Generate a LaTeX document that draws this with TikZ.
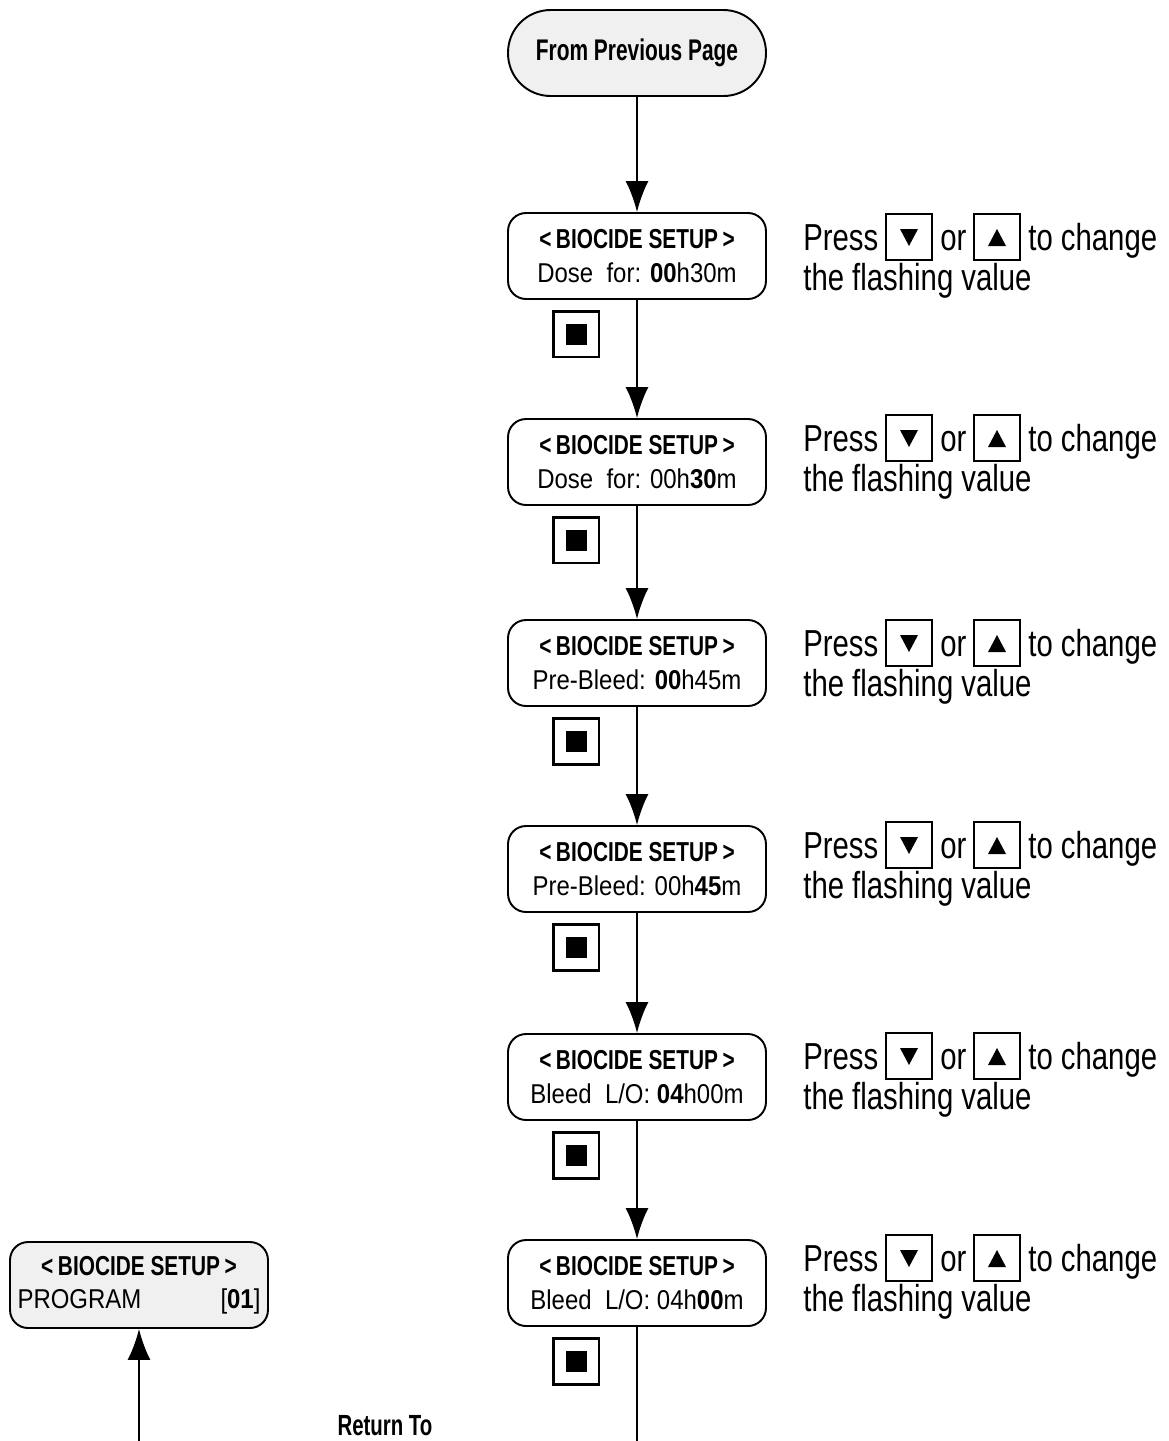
\documentclass[tikz,border=0pt]{standalone}
\usepackage{fontspec}
\setmainfont{Liberation Sans}[FakeStretch=0.88]
\newfontfamily\headfont{Liberation Sans}[FakeStretch=0.70]
\newfontfamily\hintfont{Liberation Sans}[FakeStretch=0.78]
\newfontfamily\titlefont{Liberation Sans}[FakeStretch=0.76]
\usetikzlibrary{arrows.meta}

\definecolor{panel}{RGB}{240,240,240}

\newcommand{\screentitle}{{\titlefont\bfseries\fontsize{15.6}{19}\selectfont<\,BIOCIDE SETUP\,>}}

\tikzset{
    screen/.style={draw, line width=1.1pt, rounded corners=0.36cm,
        minimum width=5.16cm, minimum height=1.72cm, inner sep=0pt,
        align=center, font=\fontsize{15.5}{19}\selectfont},
    startbox/.style={screen, fill=panel, rounded corners=0.85cm,
        font=\headfont\bfseries\fontsize{17}{20}\selectfont},
    headtext/.style={inner sep=0pt, font=\headfont\bfseries\fontsize{16.6}{19}\selectfont},
    stopkey/.style={draw, line width=1.7pt, minimum size=0.92cm, inner sep=0pt},
    keybox/.style={draw, line width=1.2pt, minimum size=0.92cm, inner sep=0pt},
    hint/.style={inner sep=0pt, font=\hintfont\fontsize{21.4}{26}\selectfont},
    flow/.style={->, line width=1.1pt}
}

\begin{document}
\begin{tikzpicture}[x=0.02cm,y=-0.02cm,>={Latex[length=0.62cm,width=0.46cm]}]
\useasboundingbox (0,0) rectangle (1169,1441);

% Entry
\node[startbox] (start) at (637,53) {From Previous Page};

% Setup screens
\node[screen] (s1) at (637,256) {\screentitle\\Dose\ \ for: \textbf{00}h30m};
\node[screen] (s2) at (637,462) {\screentitle\\Dose\ \ for: 00h\textbf{30}m};
\node[screen] (s3) at (637,663) {\screentitle\\Pre-Bleed: \textbf{00}h45m};
\node[screen] (s4) at (637,869) {\screentitle\\Pre-Bleed: 00h\textbf{45}m};
\node[screen] (s5) at (637,1077) {\screentitle\\Bleed\ \ L/O: \textbf{04}h00m};
\node[screen] (s6) at (637,1283) {\screentitle\\Bleed\ \ L/O: 04h\textbf{00}m};

% Program screen
\node[screen, fill=panel] (prog) at (139,1285)
    {\screentitle\\\makebox[4.86cm]{PROGRAM\hfill[\textbf{01}]}};

% Stop keys and hints
\foreach \y/\p [count=\i] in {256/237,462/438,663/643,869/845,1077/1056,1283/1258}{
    \node[stopkey] (key\i) at (576,\y+78) {};
    \fill (key\i.center) +(-10.5,-10.5) rectangle +(10.5,10.5);

    \node[hint, anchor=base west] (press\i) at (803,\p+13) {Press};
    \node[keybox] (dn\i) at (909,\p) {};
    \fill (dn\i.center) +(-9,-8) -- +(9,-8) -- +(0,9) -- cycle;
    \node[hint, anchor=base west] (or\i) at (940,\p+13) {or};
    \node[keybox] (up\i) at (997,\p) {};
    \fill (up\i.center) +(-9,9) -- +(9,9) -- +(0,-8) -- cycle;
    \node[hint, anchor=base west] (chg\i) at (1028,\p+13) {to change};
    \node[hint, anchor=base west] (val\i) at (803,\p+53) {the flashing value};
}

% Flow
\draw[flow] (start) -- (s1);
\foreach \a/\b in {1/2,2/3,3/4,4/5,5/6}{
    \draw[flow] (s\a) -- (s\b);
}
\coordinate (down) at (637,1441);
\draw[line width=1.1pt] (s6) -- (down);

\coordinate (back) at (139,1441);
\draw[flow] (back) -- (prog);

\node[headtext] (ret) at (385,1426) {Return To};

\end{tikzpicture}
\end{document}
